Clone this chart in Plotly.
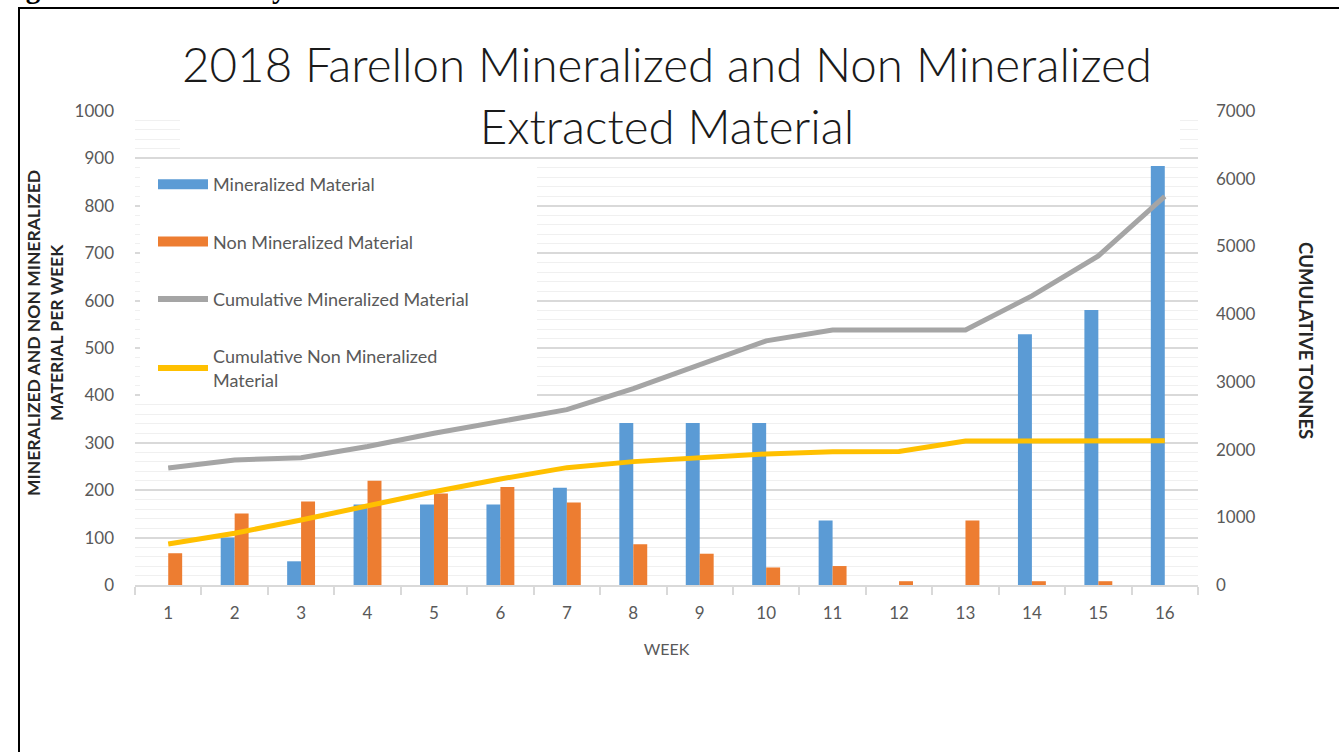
import plotly.graph_objects as go

weeks = [str(i) for i in range(1, 17)]
mineralized = [0, 100, 50, 170, 170, 170, 205, 342, 342, 342, 136, 0, 0, 529, 580, 884]
non_mineralized = [67, 151, 176, 220, 193, 207, 174, 86, 66, 37, 40, 8, 136, 8, 8, 0]
cum_mineralized = [1728, 1846, 1880, 2045, 2240, 2410, 2590, 2900, 3255, 3605, 3765, 3765, 3765, 4270, 4860, 5740]
cum_non_mineralized = [606, 764, 960, 1167, 1378, 1566, 1733, 1822, 1886, 1935, 1969, 1972, 2127, 2130, 2130, 2130]

left_ticks = list(range(0, 1001, 100))
right_ticks = list(range(0, 7001, 1000))

W, H = 1339, 752
L, R, T, B = 135, 141, 111, 167
PW, PH = W - L - R, H - T - B

def px(x):
    return (x - L) / PW

def py(y):
    return 1 - (y - T) / PH

FONT = "Lato"
GREY = "#595959"
BLUE, ORANGE, GRAYL, YELLOW = "#5b9bd5", "#ed7d31", "#a5a5a5", "#ffc000"

fig = go.Figure()
fig.add_trace(go.Bar(x=weeks, y=mineralized, name="Mineralized Material",
                     marker=dict(color=BLUE, line=dict(width=0)),
                     showlegend=False, yaxis="y"))
fig.add_trace(go.Bar(x=weeks, y=non_mineralized, name="Non Mineralized Material",
                     marker=dict(color=ORANGE, line=dict(width=0)),
                     showlegend=False, yaxis="y"))
fig.add_trace(go.Scatter(x=weeks, y=cum_mineralized, name="Cumulative Mineralized Material",
                         mode="lines", line=dict(color=GRAYL, width=5),
                         showlegend=False, yaxis="y2"))
fig.add_trace(go.Scatter(x=weeks, y=cum_non_mineralized,
                         name="Cumulative Non Mineralized Material",
                         mode="lines", line=dict(color=YELLOW, width=5),
                         showlegend=False, yaxis="y2"))

# legend entries (wide bar-like keys as in the reference)
legend_items = [
    ("Mineralized Material", BLUE, 10),
    ("Non Mineralized Material", ORANGE, 10),
    ("Cumulative Mineralized Material", GRAYL, 6),
    ("Cumulative Non Mineralized<br>Material", YELLOW, 6),
]
for i, (name, color, w) in enumerate(legend_items):
    fig.add_trace(go.Scatter(x=[None], y=[None], name=name, mode="lines",
                             line=dict(color=color, width=w), legendgroup=f"g{i}",
                             showlegend=True, yaxis="y", hoverinfo="skip"))

fig.update_layout(
    width=W, height=H,
    margin=dict(l=L, r=R, t=T, b=B, autoexpand=False),
    paper_bgcolor="white", plot_bgcolor="white",
    font=dict(family=FONT, color=GREY, size=17),
    barmode="group", bargap=0.58, bargroupgap=0,
    showlegend=True,
    legend=dict(x=px(153), y=py(166), xanchor="left", yanchor="top",
                bgcolor="white", font=dict(size=18, color=GREY, family=FONT),
                tracegroupgap=31, itemwidth=50, traceorder="grouped"),
    xaxis=dict(type="category", showgrid=False, showline=True, linecolor="#d9d9d9",
               linewidth=1.5, ticks="outside", tickson="boundaries", ticklen=8,
               tickcolor="#d9d9d9", tickwidth=1.5,
               tickfont=dict(size=17, color=GREY), ticklabelstandoff=12,
               title=dict(text="WEEK", font=dict(size=16, color=GREY), standoff=22)),
    yaxis=dict(range=[0, 1000], tickvals=left_ticks, showgrid=True, gridcolor="#d9d9d9",
               gridwidth=1.5, zeroline=False, showline=False,
               minor=dict(dtick=20, showgrid=True, gridcolor="#f0f0f0", gridwidth=1),
               tickfont=dict(size=17, color=GREY), ticklabelstandoff=20),
    yaxis2=dict(range=[0, 7000], tickvals=right_ticks, overlaying="y", side="right",
                showgrid=False, zeroline=False, showline=False,
                tickfont=dict(size=17, color=GREY), ticklabelstandoff=17),
)

# white areas behind the chart title and the legend (hide gridlines there; no marks there)
fig.add_shape(type="rect", xref="paper", yref="paper", layer="above",
              x0=px(180), x1=px(1180), y0=py(156), y1=py(105),
              fillcolor="white", line=dict(width=0))
fig.add_shape(type="rect", xref="paper", yref="paper", layer="above",
              x0=px(140), x1=px(537), y0=py(400), y1=py(166),
              fillcolor="white", line=dict(width=0))

# chart title
fig.add_annotation(text="2018 Farellon Mineralized and Non Mineralized<br>Extracted Material",
                   xref="paper", yref="paper", x=px(667), y=py(95),
                   showarrow=False, xanchor="center", yanchor="middle",
                   font=dict(size=47.5, color="#1a1a1a", family=FONT, weight=300))

# axis titles
fig.add_annotation(text="<b>MINERALIZED AND NON MINERALIZED<br>MATERIAL PER WEEK</b>",
                   xref="paper", yref="paper", x=px(45), y=py(333),
                   showarrow=False, textangle=-90, xanchor="center", yanchor="middle",
                   font=dict(size=17.5, color="#262626", family=FONT))
fig.add_annotation(text="<b>CUMULATIVE TONNES</b>",
                   xref="paper", yref="paper", x=px(1306), y=py(340),
                   showarrow=False, textangle=90, xanchor="center", yanchor="middle",
                   font=dict(size=18.5, color="#262626", family=FONT))

# outer frame
fig.add_shape(type="rect", xref="paper", yref="paper", layer="above",
              x0=px(19), x1=px(1360), y0=py(800), y1=py(8),
              fillcolor="rgba(0,0,0,0)", line=dict(color="black", width=2))

# figure caption above the frame (cut off at the top, as in the source)
fig.add_annotation(text="<b>Figure 1 – Productivity at Farellon</b>",
                   xref="paper", yref="paper", x=px(-2), y=py(6),
                   showarrow=False, xanchor="left", yanchor="bottom",
                   font=dict(size=29, color="black", family="Liberation Serif"))

fig.write_html("out.html", config={"displayModeBar": False},
               post_script="document.body.style.margin='0';")
